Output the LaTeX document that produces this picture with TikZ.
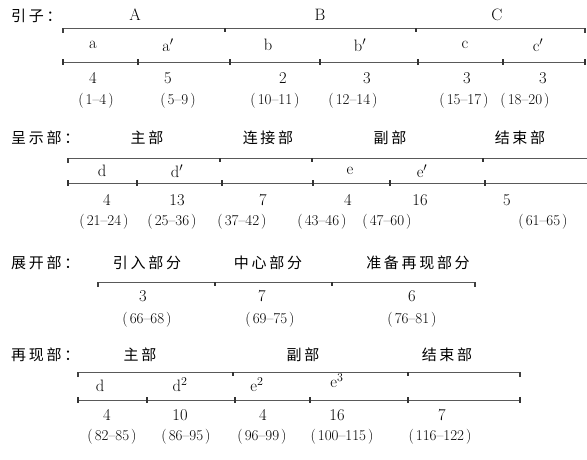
\documentclass[tikz,border=0pt]{standalone}
\usepackage{fontspec}
\newfontfamily\cjk[LetterSpace=18]{Noto Sans CJK SC}
\usetikzlibrary{positioning, calc}
\newcommand{\rgn}[1]{(\hspace{2pt}#1\hspace{2pt})}
\tikzset{
  part/.style={font=\cjk\fontsize{15}{17}\selectfont, text=black, inner sep=0pt},
  sec/.style={font=\fontsize{16.5}{18}\selectfont, text=black, inner sep=0pt},
  rng/.style={font=\fontsize{15}{17}\selectfont, text=black, inner sep=0pt},
  bar/.style={draw=black!65, line width=1pt},
  endtick/.style={draw=black!75, line width=1.1pt},
  divtick/.style={draw=black!80, line width=1.6pt},
}

\begin{document}
\begin{tikzpicture}[x=1pt, y=-1pt]
  \useasboundingbox (0,0) rectangle (587,459);

  % 引子
  \node[part, anchor=west] (r1) at (11,16) {引子：};
  \foreach \lab/\x [count=\i] in {A/135, B/320, C/497}
    \node[sec] (r1p\i) at (\x,15) {\lab};
  \coordinate (r1a) at (63,28); \coordinate (r1b) at (585,28);
  \draw[bar] (r1a) -- (r1b);
  \draw[endtick] (r1a) -- ++(0,5);
  \draw[endtick] (r1b) -- ++(0,5);
  \foreach \x [count=\i] in {225,416} {
    \coordinate (r1d\i) at (\x,28);
    \draw[divtick] (r1d\i) -- ++(0,4);
  }
  \foreach \lab/\x [count=\i] in {a/93, a$'$/168, b/268, b$'$/360, c/465, c$'$/538}
    \node[sec] (r1s\i) at (\x,45) {\lab};
  \coordinate (r1c) at (63,62); \coordinate (r1e) at (585,62);
  \draw[bar] (r1c) -- (r1e);
  \foreach \x [count=\i] in {63,138,230,320,418,503,585} {
    \coordinate (r1t\i) at (\x,62);
    \draw[divtick] ($(r1t\i)+(0,-3)$) -- ++(0,6);
  }
  \foreach \lab/\x [count=\i] in {4/93, 5/168, 2/283, 3/367, 3/467, 3/543}
    \node[sec] (r1n\i) at (\x,78) {\lab};
  \foreach \lab/\x [count=\i] in {1--4/96, 5--9/178, 10--11/275, 12--14/353, 15--17/464, 18--20/525}
    \node[rng] (r1r\i) at (\x,101) {\rgn{\lab}};

  % 呈示部
  \node[part, anchor=west] (r2) at (11,138) {呈示部：};
  \foreach \lab/\x [count=\i] in {主部/147, 连接部/268, 副部/390, 结束部/520}
    \node[part] (r2p\i) at (\x,138) {\lab};
  \coordinate (r2a) at (68,158); \coordinate (r2b) at (587,158);
  \draw[bar] (r2a) -- (r2b);
  \draw[endtick] (r2a) -- ++(0,5);
  \foreach \x [count=\i] in {220,312,483} {
    \coordinate (r2d\i) at (\x,158);
    \draw[divtick] (r2d\i) -- ++(0,4);
  }
  \foreach \lab/\x [count=\i] in {d/102, d$'$/177, e/350, e$'$/422}
    \node[sec] (r2s\i) at (\x,171) {\lab};
  \coordinate (r2c) at (68,183); \coordinate (r2e) at (587,183);
  \draw[bar] (r2c) -- (r2e);
  \foreach \x [count=\i] in {68,137,222,313,390,485} {
    \coordinate (r2t\i) at (\x,183);
    \draw[divtick] ($(r2t\i)+(0,-3)$) -- ++(0,6);
  }
  \foreach \lab/\x [count=\i] in {4/107, 13/177, 7/263, 4/348, 16/420, 5/507}
    \node[sec] (r2n\i) at (\x,200) {\lab};
  \foreach \lab/\x [count=\i] in {21--24/104, 25--36/172, 37--42/242, 43--46/322, 47--60/387, 61--65/543}
    \node[rng] (r2r\i) at (\x,222) {\rgn{\lab}};

  % 展开部
  \node[part, anchor=west] (r3) at (11,263) {展开部：};
  \foreach \lab/\x [count=\i] in {引入部分/147, 中心部分/268, 准备再现部分/418}
    \node[part] (r3p\i) at (\x,263) {\lab};
  \coordinate (r3a) at (98,282); \coordinate (r3b) at (475,282);
  \draw[bar] (r3a) -- (r3b);
  \draw[endtick] (r3a) -- ++(0,5);
  \draw[endtick] (r3b) -- ++(0,5);
  \foreach \x [count=\i] in {215,332} {
    \coordinate (r3d\i) at (\x,282);
    \draw[divtick] (r3d\i) -- ++(0,4);
  }
  \foreach \lab/\x [count=\i] in {3/143, 7/262, 6/412}
    \node[sec] (r3n\i) at (\x,296) {\lab};
  \foreach \lab/\x [count=\i] in {66--68/147, 69--75/270, 76--81/412}
    \node[rng] (r3r\i) at (\x,320) {\rgn{\lab}};

  % 再现部
  \node[part, anchor=west] (r4) at (11,355) {再现部：};
  \foreach \lab/\x [count=\i] in {主部/140, 副部/303, 结束部/447}
    \node[part] (r4p\i) at (\x,355) {\lab};
  \coordinate (r4a) at (78,372); \coordinate (r4b) at (520,372);
  \draw[bar] (r4a) -- (r4b);
  \draw[endtick] (r4a) -- ++(0,5);
  \draw[endtick] (r4b) -- ++(0,5);
  \foreach \x [count=\i] in {233,408} {
    \coordinate (r4d\i) at (\x,372);
    \draw[divtick] (r4d\i) -- ++(0,4);
  }
  \foreach \lab/\x/\y [count=\i] in {d/100/386, d$^2$/180/385, e$^2$/257/385, e$^3$/337/381}
    \node[sec] (r4s\i) at (\x,\y) {\lab};
  \coordinate (r4c) at (78,400); \coordinate (r4e) at (520,400);
  \draw[bar] (r4c) -- (r4e);
  \foreach \x [count=\i] in {78,147,235,310,408,520} {
    \coordinate (r4t\i) at (\x,400);
    \draw[divtick] ($(r4t\i)+(0,-3)$) -- ++(0,6);
  }
  \foreach \lab/\x [count=\i] in {4/107, 10/180, 4/263, 16/337, 7/442}
    \node[sec] (r4n\i) at (\x,415) {\lab};
  \foreach \lab/\x [count=\i] in {82--85/112, 86--95/186, 96--99/262, 100--115/342, 116--122/440}
    \node[rng] (r4r\i) at (\x,437) {\rgn{\lab}};
\end{tikzpicture}
\end{document}
